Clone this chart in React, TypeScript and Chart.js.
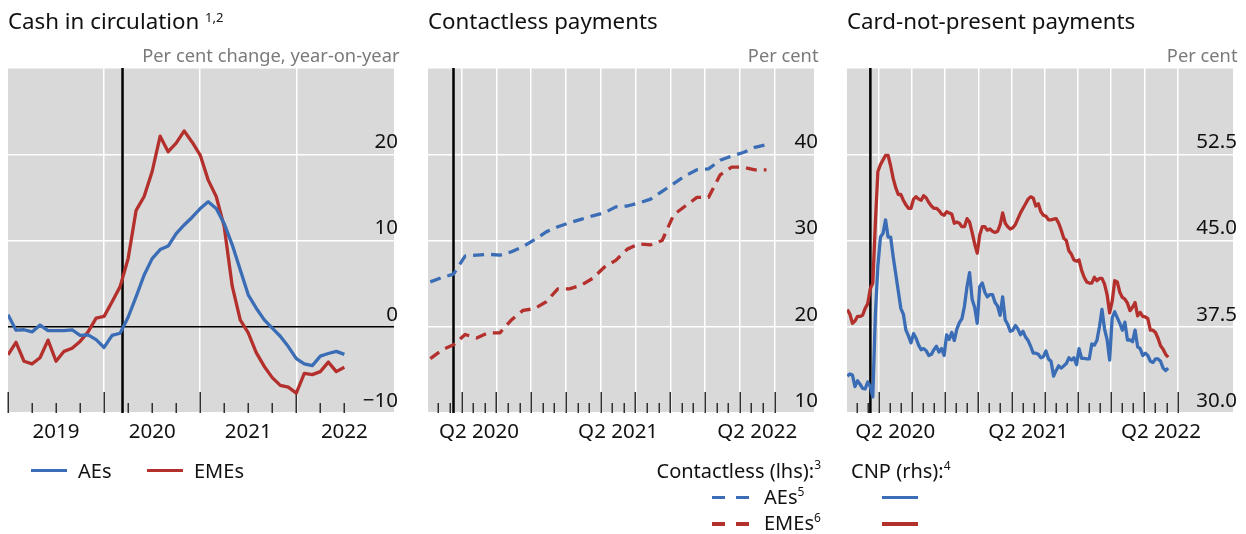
import React, { useEffect, useRef } from 'react';
import { Chart, registerables } from 'chart.js';

Chart.register(...registerables);

const FONT = '"Noto Sans", "DejaVu Sans", sans-serif';
const BLUE = '#3a6db5';
const RED = '#b3302d';
const PLOT_BG = '#d9d9d9';

// ---------- Panel 1: Cash in circulation (monthly, month 0 = Jan 2019)
const cashYearLabels = ['2019', '2020', '2021', '2022'];
const cashAEs = [1.4, -0.4, -0.35, -0.6, 0.2, -0.45, -0.45, -0.45, -0.35, -1.0, -0.95, -1.5, -2.4, -1.0, -0.75, 1.1, 3.5, 6.0, 7.9, 8.95, 9.35, 10.8, 11.8, 12.7, 13.7, 14.5, 13.7, 11.95, 9.5, 6.6, 3.7, 2.15, 0.8, -0.15, -1.1, -2.3, -3.7, -4.3, -4.5, -3.4, -3.1, -2.85, -3.2];
const cashEMEs = [-3.25, -1.8, -4.0, -4.3, -3.6, -1.55, -4.0, -2.85, -2.5, -1.7, -0.6, 1.0, 1.2, 2.9, 4.65, 7.9, 13.5, 15.1, 18.0, 22.1, 20.3, 21.3, 22.7, 21.4, 19.9, 17.0, 15.1, 11.6, 4.7, 0.8, -0.7, -3.0, -4.6, -5.9, -6.8, -7.0, -7.7, -5.4, -5.55, -5.2, -4.1, -5.2, -4.7];
const cashYTicks = [-10, 0, 10, 20, 30];

// ---------- Panel 2: Contactless payments (monthly, month 0 = Jan 2020)
const contactlessAEs = [25.2, 25.7, 26.1, 28.2, 28.3, 28.4, 28.3, 28.7, 29.3, 30.1, 31.0, 31.6, 32.05, 32.45, 32.85, 33.2, 33.9, 34.0, 34.35, 34.8, 35.7, 36.6, 37.5, 38.2, 38.3, 39.3, 39.8, 40.2, 40.8, 41.1];
const contactlessEMEs = [16.3, 17.3, 17.9, 19.1, 18.7, 19.3, 19.3, 20.8, 21.9, 22.1, 22.9, 24.4, 24.4, 24.8, 25.6, 26.9, 27.7, 29.0, 29.6, 29.5, 30.0, 33.0, 34.0, 35.0, 35.0, 37.6, 38.5, 38.5, 38.2, 38.2];
const contactlessYTicks = [10, 20, 30, 40, 50];

// ---------- Panel 3: Card-not-present payments (weekly, from first week of Jan 2020)
const cnpAEs = [
  33.2, 33.4, 33.3, 32.3, 32.8, 32.5, 32.15, 32.1, 32.7, 32.3,
  31.4, 38.5, 42.8, 45.3, 45.6, 46.8, 45.3, 45.3, 43.6, 42.1,
  40.6, 39.1, 38.6, 37.2, 36.7, 36.1, 36.9, 36.5, 35.9, 35.5,
  35.6, 35.4, 35.0, 35.1, 35.5, 35.8, 35.3, 35.6, 35.0, 36.8,
  36.4, 37.0, 36.3, 37.3, 37.85, 38.2, 39.3, 41.0, 42.2, 39.9,
  39.2, 37.8, 41.0, 41.3, 40.5, 40.1, 40.3, 40.3, 39.6, 39.3,
  38.5, 40.1, 38.1, 37.7, 37.1, 37.2, 37.6, 37.3, 36.8, 37.1,
  36.6, 36.3, 35.8, 35.2, 35.2, 35.1, 34.8, 34.9, 35.4, 34.7,
  34.5, 33.2, 33.7, 34.1, 33.9, 34.1, 34.3, 34.8, 34.6, 34.8,
  34.2, 35.6, 34.75, 34.75, 34.7, 34.7, 36.0, 35.9, 36.3, 37.5,
  39.0, 37.3, 36.4, 34.6, 38.3, 38.8, 38.3, 37.8, 37.2, 37.9,
  36.35, 36.35, 36.2, 37.2, 35.75, 35.6, 35.0, 35.2, 35.0, 34.5,
  34.4, 34.7, 34.7, 34.5, 33.9, 33.7, 33.9,
];
const cnpEMEs = [
  39.0, 38.6, 37.8, 38.0, 38.4, 38.4, 38.5, 39.1, 39.5, 40.8,
  41.3, 46.5, 51.0, 51.6, 52.0, 52.4, 52.4, 51.5, 50.4, 49.6,
  49.0, 49.0, 48.5, 48.1, 47.8, 47.8, 48.6, 48.8, 48.6, 48.5,
  48.9, 48.7, 48.3, 48.0, 47.8, 47.8, 47.6, 47.3, 47.2, 47.5,
  47.4, 47.3, 46.5, 46.6, 46.5, 46.2, 46.2, 46.9, 46.6, 45.7,
  44.7, 43.9, 45.5, 46.2, 46.2, 45.9, 46.0, 45.8, 45.7, 45.8,
  46.35, 47.4, 46.5, 46.2, 46.0, 46.1, 46.4, 46.9, 47.4, 47.8,
  48.2, 48.6, 48.8, 48.7, 48.0, 48.2, 47.5, 47.2, 47.1, 46.8,
  46.8, 46.85, 46.9, 46.5, 45.9, 45.2, 45.0, 44.1, 43.8, 43.3,
  43.2, 43.3, 42.4, 41.8, 41.4, 41.3, 41.3, 41.8, 41.5, 41.7,
  41.7, 41.2, 40.3, 38.7, 39.7, 41.5, 41.4, 40.5, 40.05, 39.9,
  39.55, 38.9, 39.2, 39.6, 38.45, 38.75, 38.4, 38.35, 38.2, 37.2,
  37.2, 37.0, 36.5, 35.85, 35.55, 35.1, 34.85,
];
const cnpYTicks = [30, 37.5, 45, 52.5, 60];

const quarterLabels = ['Q2 2020', 'Q2 2021', 'Q2 2022'];

const toPoints = (vals: number[], start: number, step: number) =>
  vals.map((v, i) => ({ x: start + i * step, y: v }));
const range = (a: number, b: number, s: number) => {
  const out: number[] = [];
  for (let v = a; v <= b + 1e-9; v += s) out.push(v);
  return out;
};

const decorPlugin = {
  id: 'decor',
  beforeDraw(chart: any) {
    const { ctx, chartArea: a } = chart;
    ctx.save();
    ctx.fillStyle = PLOT_BG;
    ctx.fillRect(a.left, a.top, a.right - a.left, a.bottom - a.top);
    ctx.restore();
  },
  beforeDatasetsDraw(chart: any, _args: any, opts: any) {
    const { ctx, chartArea: a, scales } = chart;
    const x = scales.x;
    ctx.save();
    ctx.strokeStyle = '#303030';
    ctx.lineWidth = 1.5;
    const ticks: number[] = opts.tickAt;
    for (let i = 0; i < ticks.length; i++) {
      const m = ticks[i];
      const px = Math.round(x.getPixelForValue(m)) + 0.25;
      const len = Math.abs(m % opts.majorEvery) < 1e-6 ? 21 : 10;
      ctx.beginPath();
      ctx.moveTo(px, a.bottom);
      ctx.lineTo(px, a.bottom - len);
      ctx.stroke();
    }
    const ex = x.getPixelForValue(opts.eventX);
    ctx.strokeStyle = '#000';
    ctx.lineWidth = 2.5;
    ctx.beginPath();
    ctx.moveTo(ex, a.top);
    ctx.lineTo(ex, a.bottom);
    ctx.stroke();
    ctx.restore();
  },
};

type Series = { data: { x: number; y: number }[]; color: string; dash?: number[] };
type Spec = {
  xMin: number;
  xMax: number;
  gridAt: number[];
  labelAt: number[];
  labels: string[];
  tickAt: number[];
  majorEvery: number;
  yTicks: number[];
  fmt: (v: number) => string;
  zeroBlack: boolean;
  eventX: number;
  series: Series[];
  padLeft: number;
  padRight: number;
};

function buildConfig(p: Spec): any {
  const yMin = p.yTicks[0];
  const yMax = p.yTicks[p.yTicks.length - 1];
  return {
    type: 'line',
    data: {
      datasets: p.series.map((s) => ({
        data: s.data,
        borderColor: s.color,
        backgroundColor: s.color,
        borderWidth: 3.3,
        borderDash: s.dash || [],
        borderJoinStyle: 'round',
        pointRadius: 0,
        fill: false,
        tension: 0,
        xAxisID: 'x',
        yAxisID: 'y',
      })),
    },
    options: {
      animation: false,
      responsive: false,
      devicePixelRatio: 1,
      events: [],
      layout: { padding: { top: 68, left: p.padLeft, right: p.padRight, bottom: 0 } },
      plugins: {
        legend: { display: false },
        tooltip: { enabled: false },
        decor: { tickAt: p.tickAt, majorEvery: p.majorEvery, eventX: p.eventX },
      },
      scales: {
        x: {
          type: 'linear',
          min: p.xMin,
          max: p.xMax,
          afterBuildTicks: (s: any) => {
            s.ticks = p.gridAt.map((v) => ({ value: v }));
          },
          ticks: { display: false },
          grid: { color: '#ffffff', lineWidth: 1.5, drawTicks: false },
          border: { display: false },
        },
        x2: {
          type: 'linear',
          axis: 'x',
          position: 'bottom',
          min: p.xMin,
          max: p.xMax,
          afterBuildTicks: (s: any) => {
            s.ticks = p.labelAt.map((v) => ({ value: v }));
          },
          afterFit: (s: any) => {
            s.height = 47;
          },
          ticks: {
            font: { family: FONT, size: 20.5 },
            color: '#111',
            padding: 7,
            maxRotation: 0,
            minRotation: 0,
            autoSkip: false,
            callback: (_v: any, i: number) => p.labels[i],
          },
          grid: { display: false, drawTicks: false },
          border: { display: false },
        },
        y: {
          type: 'linear',
          position: 'right',
          min: yMin,
          max: yMax,
          afterBuildTicks: (s: any) => {
            s.ticks = p.yTicks.map((v) => ({ value: v }));
          },
          grid: {
            color: (c: any) => (p.zeroBlack && c.tick && c.tick.value === 0 ? '#000000' : '#ffffff'),
            lineWidth: 1.5,
            drawTicks: false,
          },
          border: { display: false },
          ticks: {
            mirror: true,
            padding: 4,
            labelOffset: -12,
            font: { family: FONT, size: 20.5 },
            color: '#111',
            callback: (v: any) => (v === yMax ? '' : p.fmt(Number(v))),
          },
        },
      },
    },
    plugins: [decorPlugin],
  };
}

const cashSpec: Spec = {
  xMin: 0,
  xMax: 48.2,
  gridAt: [12, 24, 36],
  labelAt: [6, 18, 30, 42],
  labels: cashYearLabels,
  tickAt: range(0, 42, 3),
  majorEvery: 12,
  yTicks: cashYTicks,
  fmt: (v) => (v < 0 ? '\u2212' + Math.abs(v) : String(v)),
  zeroBlack: true,
  eventX: 14.3,
  series: [
    { data: toPoints(cashAEs, 0, 1), color: BLUE },
    { data: toPoints(cashEMEs, 0, 1), color: RED },
  ],
  padLeft: 8,
  padRight: 13,
};

const contactlessSpec: Spec = {
  xMin: 0.1,
  xMax: 33.4,
  gridAt: range(3, 30, 3),
  labelAt: [4.5, 16.5, 28.5],
  labels: quarterLabels,
  tickAt: range(1, 30, 1),
  majorEvery: 3,
  yTicks: contactlessYTicks,
  fmt: (v) => String(v),
  zeroBlack: false,
  eventX: 2.3,
  series: [
    { data: toPoints(contactlessAEs, 0.3, 1), color: BLUE, dash: [11, 7] },
    { data: toPoints(contactlessEMEs, 0.3, 1), color: RED, dash: [11, 7] },
  ],
  padLeft: 13,
  padRight: 13,
};

const cnpSpec: Spec = {
  xMin: 0.14,
  xMax: 35.0,
  gridAt: range(3, 30, 3),
  labelAt: [4.5, 16.5, 28.5],
  labels: quarterLabels,
  tickAt: range(1, 30, 1),
  majorEvery: 3,
  yTicks: cnpYTicks,
  fmt: (v) => v.toFixed(1),
  zeroBlack: false,
  eventX: 2.25,
  series: [
    { data: toPoints(cnpAEs, 0.17, 7 / 30.4375), color: BLUE },
    { data: toPoints(cnpEMEs, 0.17, 7 / 30.4375), color: RED },
  ],
  padLeft: 12,
  padRight: 5,
};

function Panel({ spec, left, width }: { spec: Spec; left: number; width: number }) {
  const ref = useRef<HTMLCanvasElement>(null);
  useEffect(() => {
    if (!ref.current) return;
    const chart = new Chart(ref.current, buildConfig(spec));
    return () => chart.destroy();
  }, []);
  const height = 460;
  return (
    <canvas
      ref={ref}
      width={width}
      height={height}
      style={{ position: 'absolute', left, top: 0, width, height, display: 'block' }}
    />
  );
}

const txt = (extra: React.CSSProperties): React.CSSProperties => ({
  position: 'absolute',
  whiteSpace: 'nowrap',
  fontFamily: FONT,
  color: '#111',
  ...extra,
});

const Sup = ({ children, raise, size = 12 }: { children: React.ReactNode; raise: number; size?: number }) => (
  <span style={{ fontSize: size, position: 'relative', top: -raise }}>{children}</span>
);

const Bar = ({ left, top, width, color }: { left: number; top: number; width: number; color: string }) => (
  <div style={{ position: 'absolute', left, top, width, height: 3.3, background: color }} />
);

const TITLE: React.CSSProperties = { top: 10.2, fontSize: 22.3, lineHeight: '22.3px' };
const UNIT: React.CSSProperties = { top: 45.5, fontSize: 18.3, lineHeight: '18.3px', color: '#7a7a7a' };

export default function App() {
  return (
    <div
      style={{
        position: 'absolute',
        left: 0,
        top: 0,
        width: 1246,
        height: 534,
        background: '#fff',
        overflow: 'hidden',
      }}
    >
      <Panel spec={cashSpec} left={0} width={415} />
      <Panel spec={contactlessSpec} left={415} width={420} />
      <Panel spec={cnpSpec} left={835} width={411} />

      {/* titles */}
      <div style={txt({ left: 8, ...TITLE })}>
        Cash in circulation <Sup raise={7} size={13}>1,2</Sup>
      </div>
      <div style={txt({ left: 428, ...TITLE })}>Contactless payments</div>
      <div style={txt({ left: 847, ...TITLE })}>Card-not-present payments</div>

      {/* units */}
      <div style={txt({ right: 1246 - 399.5, ...UNIT })}>Per cent change, year-on-year</div>
      <div style={txt({ right: 1246 - 818.5, ...UNIT })}>Per cent</div>
      <div style={txt({ right: 1246 - 1237.5, ...UNIT })}>Per cent</div>

      {/* legend panel 1 */}
      <Bar left={31} top={469} width={36} color={BLUE} />
      <div style={txt({ left: 78, top: 460.5, fontSize: 20, lineHeight: '20px' })}>AEs</div>
      <Bar left={147} top={469} width={36} color={RED} />
      <div style={txt({ left: 194, top: 460.5, fontSize: 20, lineHeight: '20px' })}>EMEs</div>

      {/* legend panel 2 */}
      <div style={txt({ right: 1246 - 821, top: 460.5, fontSize: 20, lineHeight: '20px', textAlign: 'right' })}>
        Contactless (lhs):<Sup raise={8.5}>3</Sup>
      </div>
      <Bar left={712} top={495.6} width={13} color={BLUE} />
      <Bar left={736} top={495.6} width={13} color={BLUE} />
      <div style={txt({ left: 764, top: 487, fontSize: 20, lineHeight: '20px' })}>
        AEs<Sup raise={8.5}>5</Sup>
      </div>
      <Bar left={712} top={522.3} width={13} color={RED} />
      <Bar left={736} top={522.3} width={13} color={RED} />
      <div style={txt({ left: 764, top: 513, fontSize: 20, lineHeight: '20px' })}>
        EMEs<Sup raise={8.5}>6</Sup>
      </div>

      {/* legend panel 3 */}
      <div style={txt({ left: 851, top: 461, fontSize: 20, lineHeight: '20px' })}>
        CNP (rhs):<Sup raise={8.5}>4</Sup>
      </div>
      <Bar left={882} top={496} width={36} color={BLUE} />
      <Bar left={882} top={522.3} width={36} color={RED} />
    </div>
  );
}
